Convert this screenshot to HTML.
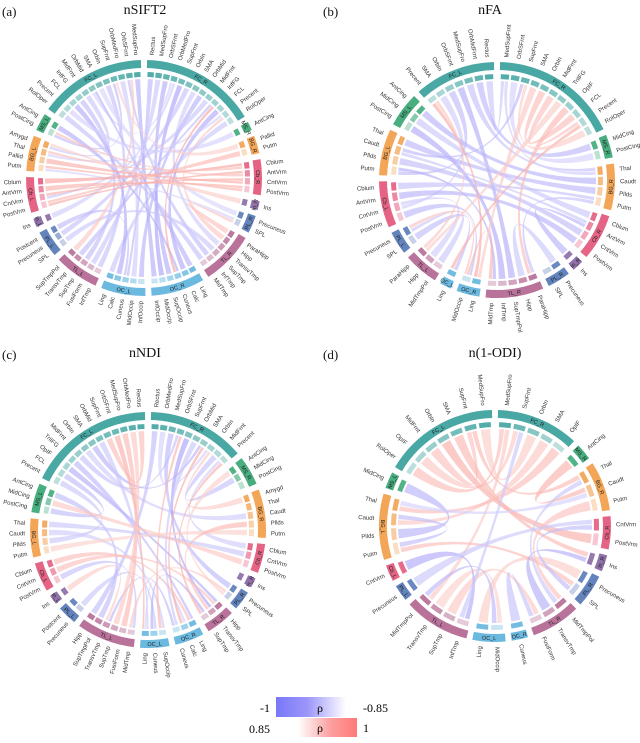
<!DOCTYPE html>
<html><head><meta charset="utf-8">
<style>
html,body{margin:0;padding:0;background:#fff;}
body{width:640px;height:738px;overflow:hidden;font-family:"Liberation Serif",serif;}
svg text{font-family:"Liberation Sans",sans-serif;}
</style></head>
<body>
<svg id="fig" width="640" height="738" viewBox="0 0 640 738" xmlns="http://www.w3.org/2000/svg">
<text x="2" y="16" font-size="13" fill="#111" style="font-family:'Liberation Serif',serif">(a)</text>
<text x="145" y="14" font-size="14" text-anchor="middle" fill="#111" style="font-family:'Liberation Serif',serif">nSIFT2</text>
<text x="323" y="16" font-size="13" fill="#111" style="font-family:'Liberation Serif',serif">(b)</text>
<text x="490" y="14" font-size="14" text-anchor="middle" fill="#111" style="font-family:'Liberation Serif',serif">nFA</text>
<text x="2" y="359" font-size="13" fill="#111" style="font-family:'Liberation Serif',serif">(c)</text>
<text x="145" y="357" font-size="14" text-anchor="middle" fill="#111" style="font-family:'Liberation Serif',serif">nNDI</text>
<text x="323" y="359" font-size="13" fill="#111" style="font-family:'Liberation Serif',serif">(d)</text>
<text x="495" y="357" font-size="14" text-anchor="middle" fill="#111" style="font-family:'Liberation Serif',serif">n(1-ODI)</text>
<defs>
<linearGradient id="gb" x1="0" x2="1"><stop offset="0" stop-color="#7878f8"/><stop offset="0.45" stop-color="#9c96fa"/><stop offset="1" stop-color="#ffffff"/></linearGradient>
<linearGradient id="gr" x1="0" x2="1"><stop offset="0" stop-color="#ffffff"/><stop offset="0.55" stop-color="#fca0a0"/><stop offset="1" stop-color="#ff7878"/></linearGradient>
</defs>
<g>
<rect x="276" y="697" width="70" height="20" fill="url(#gb)"/>
<text x="270" y="712" font-size="12" text-anchor="end" style="font-family:'Liberation Serif',serif">-1</text>
<text x="320" y="712" font-size="12" text-anchor="middle" style="font-family:'Liberation Serif',serif">ρ</text>
<text x="363" y="712" font-size="12" style="font-family:'Liberation Serif',serif">-0.85</text>
</g>
<g>
<rect x="298" y="718" width="59" height="19" fill="url(#gr)"/>
<text x="270" y="733" font-size="12" text-anchor="end" style="font-family:'Liberation Serif',serif">0.85</text>
<text x="320" y="732" font-size="12" text-anchor="middle" style="font-family:'Liberation Serif',serif">ρ</text>
<text x="363" y="732" font-size="12" style="font-family:'Liberation Serif',serif">1</text>
</g>
</svg>
<script>
const COLORS={FC:[63,163,159],MS:[63,170,120],BG:[242,161,79],Cb:[228,92,127],In:[138,106,166],PL:[91,124,186],TL:[181,107,149],OC:[100,181,222]};

const groupsA=[["FC_R",["Rectus","MedSupFro","OrbSFrnt","OrbMedFro","SupFrnt","OrbIn","SMA","OrbMid","MidFrnt","InfFG","FCL","Precent","RolOper"]],["MS_R",["AntCing"]],["BG_R",["Pallid","Putm"]],["Cb_R",["Cblum","AntVrm","CntVrm","PostVrm"]],["In_R",["Ins"]],["PL_R",["Precuneus","SPL"]],["TL_R",["ParaHipp","Hipp","TransvTmp","SupTmp","InfTmp","MidTmp"]],["OC_R",["Ling","Calc","Cuneus","SupOccip","MidOccip","InfOccip"]],["OC_L",["InfOccip","MidOccip","Cuneus","Calc","Ling"]],["TL_L",["InfTmp","FusiForm","SupTmp","TransvTmp","SupTmpPol"]],["PL_L",["SPL","Precuneus","Postcent"]],["In_L",["Ins"]],["Cb_L",["PostVrm","CntVrm","AntVrm","Cblum"]],["BG_L",["Putm","Pallid","Thal","Amygd"]],["MS_L",["PostCing","AntCing"]],["FC_L",["RolOper","Precent","FCL","InfFG","MidFrnt","OrbMid","SMA","OrbIn","SupFrnt","OrbMedFro","OrbSFrnt","MedSupFro"]]];
const srcA=["FC_R:0","FC_R:1","FC_R:2","FC_R:3","FC_R:4","FC_R:5","FC_R:6","FC_R:7","FC_R:8","FC_R:9","FC_R:10","FC_R:11","FC_R:12","FC_L:11","FC_L:10","FC_L:9","FC_L:8","FC_L:7","FC_L:6","FC_L:5","FC_L:4","FC_L:3","FC_L:2","FC_L:1","FC_L:0","MS_L:1","In_L:0","PL_L:0","PL_L:2","BG_L:0","Cb_L:0","Cb_L:1","Cb_L:2","Cb_L:3","Cb_L:0","BG_L:1","BG_L:2","BG_L:0","TL_L:4","TL_R:0","In_R:0","OC_R:2","FC_L:8","TL_R:1","MS_L:0"];
const tgtA=["OC_L:2","TL_L:1","OC_R:3","FC_L:5","OC_R:4","PL_L:1","TL_R:2","OC_L:0","Cb_L:1","TL_L:3","OC_R:1","BG_L:2","OC_L:4","OC_R:5","TL_R:4","OC_L:1","MS_L:0","TL_L:0","PL_R:0","OC_R:0","BG_L:3","TL_L:2","OC_L:3","MS_R:0","TL_R:5","OC_R:2","FC_R:3","TL_R:3","OC_L:2","PL_R:1","Cb_R:1","Cb_R:2","Cb_R:3","Cb_R:0","BG_R:1","Cb_R:2","Cb_R:0","Cb_R:3","FC_L:10","PL_R:1","BG_L:3","FC_R:9","BG_R:0","FC_R:11","Cb_R:1"];
const rhoA=[-0.93,-0.9,-0.95,-0.88,-0.97,-0.91,-0.89,-0.94,-0.9,-0.92,-0.96,-0.88,-0.9,-0.95,-0.92,-0.89,-0.93,-0.91,-0.87,-0.94,-0.9,-0.92,-0.96,-0.88,-0.91,-0.95,-0.89,-0.9,-0.92,-0.88,0.96,0.95,0.94,0.97,0.93,0.95,0.92,0.94,0.9,0.91,0.89,0.97,0.88,0.9,0.92];

const groupsB=[["FC_R",["MedSupFrnt","OrbSFrnt","SupFrnt","SMA","OrbIn","MidFrnt","TriIFG","OpIF","FCL","Precent","RolOper"]],["MS_R",["MidCing","PostCing"]],["BG_R",["Thal","Caudt","Pllds","Putm"]],["Cb_R",["Cblum","AntVrm","CntVrm","PostVrm"]],["In_R",["Ins"]],["PL_R",["Precuneus","SPL"]],["TL_R",["ParaHipp","Hipp","SupTmpPol","InfTmp","MidTmp"]],["OC_R",["Ling","MidOccip"]],["OC_L",["Ling"]],["TL_L",["MidTmpPol","Hipp","ParaHipp"]],["PL_L",["SPL","Precuneus"]],["Cb_L",["PostVrm","CntVrm","AntVrm","Cblum"]],["BG_L",["Putm","Pllds","Caudt","Thal"]],["MS_L",["PostCing","MidCing","AntCing"]],["FC_L",["Precent","SMA","OrbIn","OrbSFrnt","MedSupFro","OrbMidFrnt","Rectus"]]];
const srcB=["FC_L:6","FC_L:5","FC_L:4","FC_L:3","FC_L:2","FC_L:1","MS_L:2","MS_L:1","MS_L:0","BG_L:3","BG_L:2","BG_L:1","BG_L:0","Cb_L:3","Cb_L:2","Cb_L:1","Cb_L:0","PL_L:1","PL_L:0","FC_R:1","FC_R:0","In_R:0","PL_R:0","TL_R:0","FC_R:2","FC_R:3","FC_R:4","FC_R:5","FC_R:6","FC_R:7","FC_R:9","FC_L:0","FC_L:0","TL_R:4","PL_L:1","FC_R:10"];
const tgtB=["FC_R:0","MS_R:0","BG_R:0","TL_R:2","BG_L:0","Cb_L:1","BG_R:1","Cb_R:0","TL_R:3","BG_R:2","Cb_R:1","Cb_R:2","TL_R:4","BG_R:3","Cb_R:3","TL_L:1","OC_R:1","TL_L:0","OC_L:0","MS_R:1","BG_R:0","Cb_R:1","TL_R:1","BG_R:3","BG_L:2","OC_R:0","FC_R:8","FC_R:9","TL_L:2","TL_R:0","OC_L:0","OC_R:0","TL_L:2","OC_R:1","OC_R:1","FC_R:2"];
const rhoB=[-0.9,-0.93,-0.91,-0.95,-0.92,-0.89,-0.94,-0.9,-0.96,-0.93,-0.9,-0.92,-0.95,-0.91,-0.94,-0.89,-0.93,-0.9,-0.92,-0.88,-0.89,-0.94,-0.9,-0.91,-0.93,0.9,0.92,0.91,0.89,0.93,0.95,0.96,0.9,0.94,0.91,0.89];

const groupsC=[["FC_R",["Rectus","OrbMedFro","MedSupFro","OrbSFrnt","SupFrnt","OrbMid","SMA","OrbIn","MidFrnt","Precent"]],["MS_R",["AntCing","MidCing","PostCing"]],["BG_R",["Amygd","Thal","Caudt","Pllds","Putm"]],["Cb_R",["Cblum","CntVrm","PostVrm"]],["In_R",["Ins"]],["PL_R",["Precuneus","SPL"]],["TL_R",["Hipp","TransvTmp","SupTmp"]],["OC_R",["Ling","Calc","Cuneus"]],["OC_L",["SupOccip","Cuneus","Ling"]],["TL_L",["MidTmp","FusiForm","SupTmp","TransvTmp","SupTmpPol","Hipp"]],["PL_L",["Precuneus","Postcent"]],["In_L",["Ins"]],["Cb_L",["PostVrm","CntVrm","Cblum"]],["BG_L",["Putm","Pllds","Caudt","Thal"]],["MS_L",["PostCing","MidCing","AntCing"]],["FC_L",["Precent","FCL","OpIF","TriIFG","MidFrnt","OrbIn","SMA","OrbMid","SupFrnt","OrbSFrnt","MedSupFro","OrbMedFro","Rectus"]]];
const srcC=["FC_L:0","FC_L:1","FC_L:2","FC_L:3","FC_L:4","FC_L:5","FC_L:6","FC_L:7","FC_R:0","FC_R:1","FC_R:2","FC_R:4","FC_R:5","FC_R:8","FC_R:9","MS_L:2","PL_L:0","TL_L:3","OC_L:1","OC_L:2","Cb_L:0","BG_L:3","BG_L:2","FC_L:8","FC_L:9","FC_L:10","FC_L:11","FC_R:3","FC_R:6","FC_R:7","MS_L:1","BG_L:0","Cb_L:1","Cb_L:2","PL_R:1","In_L:0","BG_R:3","FC_R:9","MS_R:0"];
const tgtC=["BG_L:1","MS_L:0","TL_R:0","OC_R:0","FC_R:3","BG_R:2","FC_R:6","OC_L:2","TL_L:5","FC_R:7","PL_R:0","TL_R:1","OC_R:2","MS_R:1","Cb_R:0","TL_L:4","OC_L:1","OC_R:2","TL_R:2","OC_R:1","TL_L:0","Cb_R:1","OC_L:0","FC_L:12","OC_L:2","TL_L:1","TL_L:2","OC_L:0","OC_R:1","BG_R:0","Cb_R:2","BG_R:4","TL_R:0","OC_R:0","TL_L:0","TL_L:3","TL_R:1","TL_R:2","PL_R:1"];
const rhoC=[-0.9,-0.92,-0.95,-0.93,-0.91,-0.89,-0.94,-0.9,-0.92,-0.88,-0.93,-0.97,-0.9,-0.91,-0.89,-0.92,-0.9,-0.93,-0.95,-0.88,-0.91,-0.9,-0.89,0.92,0.95,0.93,0.9,0.94,0.96,0.89,0.9,0.88,0.91,0.92,0.9,0.89,0.93,0.95,0.88];

const groupsD=[["FC_R",["MedSupFro","SupFrnt","OrbIn","SMA","OpIF"]],["MS_R",["AntCing"]],["BG_R",["Thal","Caudt","Putm"]],["Cb_R",["CntVrm","PostVrm"]],["In_R",["Ins"]],["PL_R",["Precuneus","SPL"]],["TL_R",["MidTmpPol","TransvTmp","FusiForm"]],["OC_R",["Cuneus"]],["OC_L",["MidOccip","Ling"]],["TL_L",["InfTmp","SupTmp","TransvTmp","MidTmpPol"]],["PL_L",["Precuneus"]],["Cb_L",["CntVrm"]],["BG_L",["Putm","Pllds","Caudt","Thal"]],["MS_L",["MidCing"]],["FC_L",["RolOper","OpIF","MidFrnt","OrbIn","SMA","SupFrnt","MedSupFro"]]];
const srcD=["FC_L:0","FC_L:1","FC_L:2","FC_L:3","FC_L:4","FC_L:6","FC_R:3","FC_R:4","FC_R:0","MS_R:0","BG_R:2","PL_R:0","TL_L:1","TL_L:2","BG_L:0","FC_L:5","MS_L:0","BG_L:2","Cb_L:0","PL_L:0","TL_L:3","OC_R:0","TL_R:1","FC_R:1","BG_L:3","Cb_R:0","BG_R:0"];
const tgtD=["FC_R:0","FC_R:1","FC_L:5","Cb_R:1","In_R:0","FC_R:2","BG_L:2","BG_L:3","TL_L:3","BG_R:1","TL_R:0","OC_L:1","TL_R:2","OC_L:0","PL_R:1","BG_R:0","BG_L:1","BG_L:0","TL_L:0","Cb_R:0","OC_L:0","TL_R:2","In_R:0","TL_L:0","BG_R:1","PL_R:1","TL_R:0"];
const rhoD=[0.92,0.9,0.91,0.95,0.93,0.89,0.9,0.92,0.9,0.94,0.91,0.89,0.9,0.88,0.92,0.93,-0.94,-0.92,-0.96,-0.9,-0.93,-0.91,-0.95,-0.9,-0.88,-0.92,-0.9];

const SVGNS="http://www.w3.org/2000/svg";
const fig=document.getElementById('fig');
function mk(tag,attrs,parent){const e=document.createElementNS(SVGNS,tag);for(const k in attrs)e.setAttribute(k,attrs[k]);parent.appendChild(e);return e;}
function rad(d){return d*Math.PI/180;}
function pt(cx,cy,r,a){return [cx+r*Math.sin(rad(a)),cy-r*Math.cos(rad(a))];}
function mix(c,f){return 'rgb('+c.map(v=>Math.round(v+(255-v)*f)).join(',')+')';}
function chordColor(rho){
  const t=Math.min(1,Math.max(0,(Math.abs(rho)-0.85)/0.15));
  const base=rho<0?[120,110,245]:[245,110,100];
  return mix(base,0.78-0.5*t);
}
function drawPanel(name,cx,cy,R,groups,src,tgt,rho){
  const g=mk('g',{},fig);
  
  
  const gap=3;
  const nl=groups.reduce((s,x)=>s+x[1].length,0);
  const step=(360-groups.length*gap)/nl;
  const pos={};
  let a=gap/2;
  const rOut=R,rIn=R-8,sqO=R-12,sqI=R-17,rc=R-19;
  groups.forEach(([gname,labels])=>{
    const col=COLORS[gname.split('_')[0]];
    const a0=a,a1=a+labels.length*step;
    const p1=pt(cx,cy,rOut,a0),p2=pt(cx,cy,rOut,a1),p3=pt(cx,cy,rIn,a1),p4=pt(cx,cy,rIn,a0);
    const lg=(a1-a0)>180?1:0;
    const band=mk('path',{d:`M${p1}A${rOut},${rOut} 0 ${lg} 1 ${p2}L${p3}A${rIn},${rIn} 0 ${lg} 0 ${p4}Z`,fill:mix(col,0.05)},g);
    
    
    const am=(a0+a1)/2, pm=pt(cx,cy,(rOut+rIn)/2,am);
    const rot=(am>90&&am<270)?am+180:am;
    const gt=mk('text',{x:pm[0],y:pm[1]+2,'font-size':5.5,'text-anchor':'middle',fill:'#222',transform:`rotate(${rot},${pm[0]},${pm[1]})`},g);
    gt.textContent=gname;
    
    
    labels.forEach((lab,li)=>{
      const s0=a+li*step+step*0.1,s1=a+(li+1)*step-step*0.1;
      const q1=pt(cx,cy,sqO,s0),q2=pt(cx,cy,sqO,s1),q3=pt(cx,cy,sqI,s1),q4=pt(cx,cy,sqI,s0);
      const f=labels.length>1?0.1+0.55*(gname.endsWith('_R')?li/(labels.length-1):1-li/(labels.length-1)):0.1;
      const sq=mk('path',{d:`M${q1}A${sqO},${sqO} 0 0 1 ${q2}L${q3}A${sqI},${sqI} 0 0 0 ${q4}Z`,fill:mix(col,f)},g);
      
      
      const ac=a+(li+0.5)*step;
      pos[gname+':'+li]={a:ac,n:0,k:0};
      const lp=pt(cx,cy,R+5,ac);
      const right=ac<180;
      const tr=right?ac-90:ac+90;
      const tx=mk('text',{x:lp[0],y:lp[1]+2,'font-size':6,'text-anchor':right?'start':'end',fill:'#333',transform:`rotate(${tr},${lp[0]},${lp[1]})`},g);
      tx.textContent=lab;
      
      
    });
    a=a1+gap;
  });
  src.forEach((s,i)=>{if(pos[s])pos[s].n++;if(pos[tgt[i]])pos[tgt[i]].n++;});
  const cg=mk('g',{},g);
  
  
  function slot(key){
    const p=pos[key];const w=step*0.8/Math.max(1,p.n);
    const s=p.a-step*0.4+w*p.k;p.k++;
    return [s+w*0.08,s+w*0.92];
  }
  src.forEach((s,i)=>{
    if(!pos[s]||!pos[tgt[i]])return;
    const [s0,s1]=slot(s),[t0,t1]=slot(tgt[i]);
    const A=pt(cx,cy,rc,s0),B=pt(cx,cy,rc,s1),C=pt(cx,cy,rc,t0),D=pt(cx,cy,rc,t1);
    const d=`M${A}A${rc},${rc} 0 0 1 ${B}Q${cx},${cy} ${C}A${rc},${rc} 0 0 1 ${D}Q${cx},${cy} ${A}Z`;
    const p=mk('path',{d:d,fill:chordColor(rho[i]),'fill-opacity':0.65},cg);
    
    
  });
}
drawPanel('panel-a-nsift2',144,178,118,groupsA,srcA,tgtA,rhoA);
drawPanel('panel-b-nfa',497,180,118,groupsB,srcB,tgtB,rhoB);
drawPanel('panel-c-nndi',148,530,118,groupsC,srcC,tgtC,rhoC);
drawPanel('panel-d-n1odi',495,526,116,groupsD,srcD,tgtD,rhoD);
</script>
</body></html>
